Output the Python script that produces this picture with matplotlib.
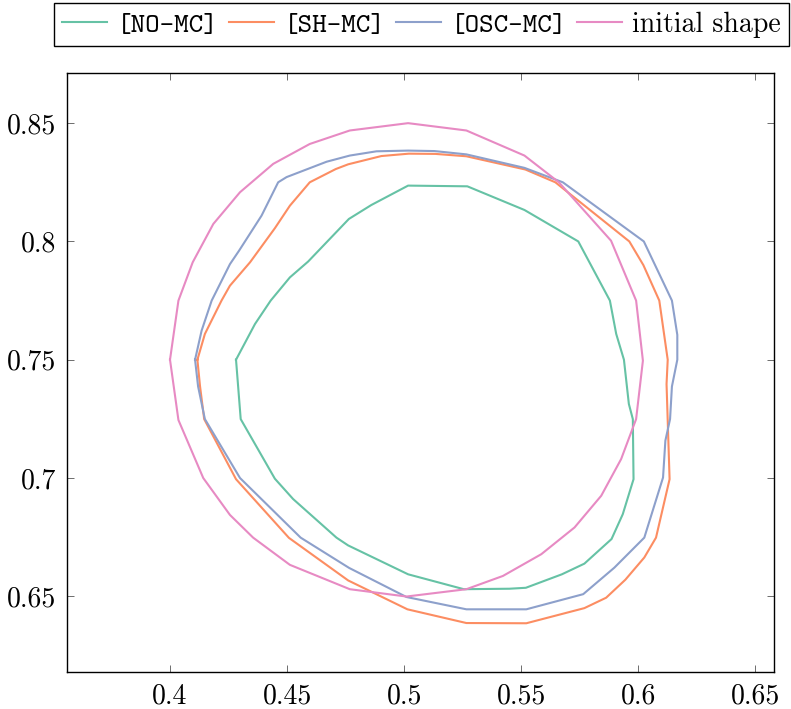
import matplotlib
matplotlib.use('Agg')
import matplotlib.pyplot as plt
from matplotlib.ticker import FuncFormatter, MultipleLocator

# Contour vertices (closed polylines)
no_mc_x = [0.4282, 0.4302, 0.4448, 0.4526, 0.4711, 0.4761, 0.5017, 0.5255, 0.5450,
           0.5520, 0.5674, 0.5770, 0.5886, 0.5934, 0.5980, 0.5977, 0.5960, 0.5939,
           0.5906, 0.5879, 0.5744, 0.5514, 0.5270, 0.5017, 0.4860, 0.4764, 0.4590,
           0.4512, 0.4430, 0.4363, 0.4282]
no_mc_y = [0.7500, 0.7249, 0.6997, 0.6911, 0.6748, 0.6715, 0.6593, 0.6530, 0.6532,
           0.6536, 0.6593, 0.6638, 0.6742, 0.6847, 0.6995, 0.7249, 0.7313, 0.7500,
           0.7609, 0.7750, 0.8000, 0.8133, 0.8233, 0.8236, 0.8154, 0.8095, 0.7915,
           0.7848, 0.7750, 0.7651, 0.7500]

sh_mc_x = [0.4117, 0.4128, 0.4146, 0.4282, 0.4508, 0.4761, 0.5014, 0.5266, 0.5522,
           0.5770, 0.5863, 0.5945, 0.6026, 0.6076, 0.6134, 0.6121, 0.6126, 0.6090,
           0.6022, 0.5962, 0.5646, 0.5518, 0.5266, 0.5134, 0.5020, 0.4903, 0.4761,
           0.4708, 0.4597, 0.4512, 0.4448, 0.4342, 0.4256, 0.4220, 0.4149, 0.4117]
sh_mc_y = [0.7500, 0.7390, 0.7249, 0.6995, 0.6747, 0.6567, 0.6445, 0.6387, 0.6386,
           0.6450, 0.6494, 0.6570, 0.6664, 0.6748, 0.6995, 0.7397, 0.7500, 0.7750,
           0.7900, 0.8000, 0.8250, 0.8304, 0.8360, 0.8370, 0.8371, 0.8361, 0.8326,
           0.8306, 0.8250, 0.8151, 0.8056, 0.7912, 0.7813, 0.7750, 0.7609, 0.7500]

osc_mc_x = [0.4107, 0.4120, 0.4149, 0.4299, 0.4558, 0.4765, 0.5010, 0.5266, 0.5522,
            0.5765, 0.5898, 0.6026, 0.6106, 0.6116, 0.6136, 0.6144, 0.6167, 0.6167,
            0.6144, 0.6024, 0.5678, 0.5514, 0.5266, 0.5130, 0.5017, 0.4882, 0.4768,
            0.4669, 0.4498, 0.4462, 0.4391, 0.4295, 0.4256, 0.4178, 0.4135, 0.4107]
osc_mc_y = [0.7500, 0.7387, 0.7249, 0.7000, 0.6748, 0.6620, 0.6497, 0.6445, 0.6445,
            0.6509, 0.6621, 0.6748, 0.7002, 0.7158, 0.7249, 0.7387, 0.7500, 0.7605,
            0.7750, 0.8000, 0.8250, 0.8311, 0.8368, 0.8382, 0.8384, 0.8381, 0.8363,
            0.8337, 0.8272, 0.8250, 0.8109, 0.7961, 0.7904, 0.7750, 0.7623, 0.7500]

init_x = [0.4000, 0.4036, 0.4142, 0.4256, 0.4355, 0.4512, 0.4768, 0.5010, 0.5266,
          0.5422, 0.5586, 0.5728, 0.5842, 0.5927, 0.5991, 0.6020, 0.5991, 0.5884,
          0.5661, 0.5514, 0.5266, 0.5017, 0.4768, 0.4597, 0.4441, 0.4299, 0.4185,
          0.4097, 0.4036, 0.4000]
init_y = [0.7500, 0.7245, 0.7000, 0.6844, 0.6748, 0.6633, 0.6530, 0.6499, 0.6530,
          0.6586, 0.6678, 0.6791, 0.6925, 0.7080, 0.7249, 0.7496, 0.7750, 0.8003,
          0.8250, 0.8363, 0.8469, 0.8500, 0.8469, 0.8412, 0.8328, 0.8208, 0.8074,
          0.7912, 0.7750, 0.7500]

labels = ['[NO-MC]', '[SH-MC]', '[OSC-MC]', 'initial shape']
colors = ['#66c2a5', '#fc8d62', '#8da0cb', '#e78ac3']

fig = plt.figure(figsize=(7.91, 7.09), dpi=100)
ax = fig.add_axes([67 / 791, 1 - 672 / 709, 707 / 791, 599 / 709])

series = [(no_mc_x, no_mc_y), (sh_mc_x, sh_mc_y), (osc_mc_x, osc_mc_y), (init_x, init_y)]
for (xs, ys), lab, col in zip(series, labels, colors):
    ax.plot(xs, ys, color=col, linewidth=1.5, label=lab)

ax.set_xlim(0.356, 0.658)
ax.set_ylim(0.618, 0.8712)
ax.xaxis.set_major_locator(MultipleLocator(0.05))
ax.yaxis.set_major_locator(MultipleLocator(0.05))
fmt = FuncFormatter(lambda v, pos: f'{v:g}')
ax.xaxis.set_major_formatter(fmt)
ax.yaxis.set_major_formatter(fmt)

# pgfplots look: inward ticks on all sides, computer modern labels
ax.tick_params(direction='in', top=True, right=True, length=5, width=0.6,
               color='#555555', labelsize=20, pad=8)
for t in ax.get_xticklabels() + ax.get_yticklabels():
    t.set_fontfamily('cmr10')
for s in ax.spines.values():
    s.set_linewidth(1.0)

leg = ax.legend(loc='upper left', bbox_to_anchor=(54 / 791, 1 - 3 / 709),
                bbox_transform=fig.transFigure, ncol=4, fontsize=20,
                frameon=True, fancybox=False, edgecolor='black', framealpha=1,
                borderaxespad=0, borderpad=0.3, handlelength=1.62,
                handletextpad=0.36, columnspacing=0.36)
leg.get_frame().set_linewidth(1.0)
for i, t in enumerate(leg.get_texts()):
    t.set_fontfamily('cmtt10' if i < 3 else 'cmr10')

plt.savefig('out.png', dpi=100)
